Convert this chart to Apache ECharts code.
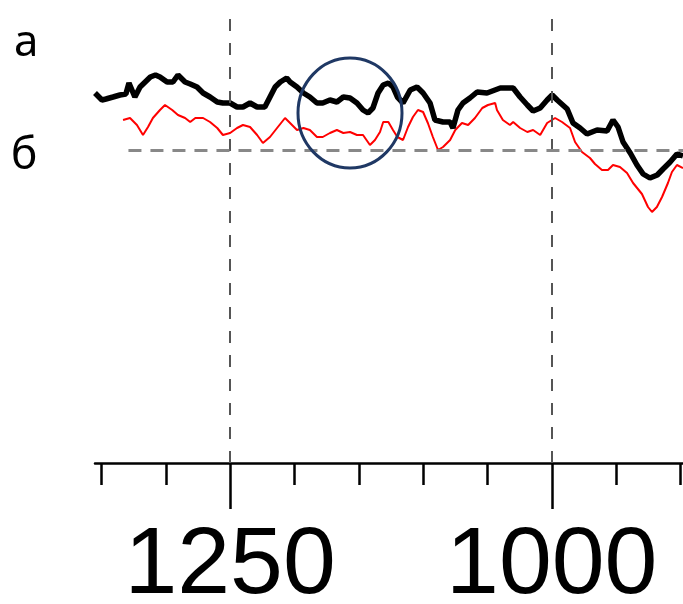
<!DOCTYPE html>
<html>
<head>
<meta charset="utf-8">
<script src="https://cdn.jsdelivr.net/npm/echarts@6/dist/echarts.min.js"></script>
<style>
  html, body { margin: 0; padding: 0; background: #fff; }
  #chart { width: 683px; height: 604px; }
</style>
</head>
<body>
<div id="chart"></div>
<script>
// spectrum a (black), wavenumber / intensity
const blackWn = [1355, 1349.6, 1346.5, 1341, 1335.6, 1331, 1328.6, 1324, 1320, 1316, 1312, 1308, 1304.5, 1299, 1294.4, 1290.5, 1285, 1281, 1275.7, 1271, 1265.6, 1260, 1255.6, 1250, 1244.6, 1240, 1234.5, 1229, 1223, 1219, 1215, 1211, 1206, 1203.4, 1198, 1193, 1188, 1182.5, 1178, 1172.4, 1167, 1162, 1156.8, 1151.4, 1146.7, 1142.8, 1139, 1135, 1131, 1127, 1123.4, 1120, 1115.6, 1110, 1104.7, 1100, 1094.6, 1090.8, 1084.5, 1079, 1076.8, 1072.9, 1069, 1063.6, 1058, 1050.3, 1040, 1030, 1024.6, 1019, 1014.5, 1009, 1003.6, 999.7, 995.8, 988, 983.5, 978, 972.6, 964.8, 957, 952.4, 948.5, 944.6, 939, 933.8, 929, 923.7, 918, 913.5, 908, 902.7, 898];
const blackVal = [370, 363, 364, 366, 368, 369, 380, 366, 376, 381, 386, 388, 386, 381, 381, 388, 381, 379, 376, 370, 366, 361, 360, 360, 356, 356, 360, 356, 356, 366, 376, 381, 385, 381, 376, 370, 366, 360, 360, 363, 361, 366, 365, 360, 353, 350, 355, 370, 378, 380, 376, 366, 360, 373, 376, 370, 360, 343, 341, 341, 335, 353, 360, 365, 371, 370, 375, 375, 366, 358, 352, 355, 363, 368, 363, 354, 340, 335, 329, 333, 332, 343, 336, 321, 310, 298, 289, 285, 288, 294, 301, 309, 307];

// spectrum б (red)
const redWn = [1333.2, 1327.8, 1322.4, 1317.7, 1313.8, 1310, 1304.5, 1300.6, 1295, 1290.5, 1285, 1281, 1277, 1271, 1265.6, 1260, 1255.6, 1250, 1244.6, 1240, 1234.5, 1229, 1224.5, 1219, 1213.5, 1207.3, 1203.4, 1198, 1193, 1188, 1182.5, 1178, 1172.4, 1167, 1162, 1156.8, 1151.4, 1146.7, 1141.3, 1137.4, 1133.5, 1131, 1127, 1123.4, 1120, 1115.6, 1111.7, 1107.9, 1104, 1100, 1096.3, 1092.4, 1088.4, 1084.5, 1079, 1075, 1069.8, 1065, 1059.7, 1054, 1049.6, 1044, 1042.6, 1038, 1032.5, 1030, 1024.6, 1019, 1014.5, 1009, 1003.6, 997.4, 992, 985.8, 981.9, 976.5, 970.3, 966.4, 961, 956.3, 952.4, 947, 941.5, 936.8, 929.9, 925.2, 922.1, 918.3, 914.3, 909.7, 906.6, 902.7, 898];
const redVal = [343, 345, 338, 328, 336, 345, 353, 358, 353, 348, 345, 341, 345, 345, 341, 335, 328, 330, 335, 338, 336, 328, 320, 326, 335, 345, 340, 333, 335, 333, 326, 326, 330, 333, 330, 331, 328, 328, 318, 323, 331, 341, 341, 333, 326, 323, 336, 346, 353, 351, 340, 326, 313, 316, 323, 333, 340, 338, 345, 355, 358, 360, 353, 343, 338, 341, 335, 331, 333, 328, 340, 345, 341, 335, 321, 311, 305, 299, 293, 293, 298, 296, 290, 280, 269, 256, 251, 256, 266, 280, 291, 298, 295];

const minorTicks = [900, 950, 1000, 1050, 1100, 1150, 1200, 1250, 1300, 1350];
const majorTicks = [1000, 1250];
const baseLevel = 313;

const zip = (xs, ys) => xs.map((x, i) => [x, ys[i]]);

const chart = echarts.init(document.getElementById('chart'));

const xRange = { type: 'value', min: 898, max: 1355, inverse: true, splitLine: { show: false } };

chart.setOption({
  animation: false,
  grid: { left: 95, right: 0, top: 12, bottom: 141, outerBoundsMode: 'none', containLabel: false },
  xAxis: [
    Object.assign({}, xRange, {
      position: 'bottom',
      axisLine: { show: true, lineStyle: { color: '#000', width: 2.5 } },
      axisTick: { show: true, customValues: minorTicks, length: 22, lineStyle: { color: '#000', width: 2.5 } },
      axisLabel: { show: false }
    }),
    Object.assign({}, xRange, {
      position: 'bottom',
      axisLine: { show: false },
      axisTick: { show: true, customValues: majorTicks, length: 46, lineStyle: { color: '#000', width: 2.5 } },
      axisLabel: {
        customValues: majorTicks, margin: 56, color: '#000',
        fontSize: 95, fontFamily: 'Liberation Sans, Arial, sans-serif',
        formatter: v => String(v)
      }
    })
  ],
  yAxis: { type: 'value', min: 0, max: 451, show: false },
  graphic: [
    { type: 'text', left: 14, top: 21, style: { text: 'а', fontSize: 44, fontFamily: 'Noto Sans', fill: '#000' } },
    { type: 'text', left: 11, top: 134, style: { text: 'б', fontSize: 44, fontFamily: 'Noto Sans', fill: '#000' } },
    {
      type: 'ellipse', z: 100,
      shape: { cx: 350, cy: 113, rx: 52, ry: 55 },
      style: { fill: 'none', stroke: '#1f3864', lineWidth: 3 }
    }
  ],
  series: [
    {
      type: 'line', data: [], silent: true,
      markLine: {
        silent: true, symbol: 'none', label: { show: false },
        data: [
          { xAxis: 1250, lineStyle: { color: '#555', width: 2, type: [12, 12] } },
          { xAxis: 1000, lineStyle: { color: '#555', width: 2, type: [12, 12] } },
          [
            { coord: [1329, baseLevel], lineStyle: { color: '#888', width: 3, type: [13, 9] } },
            { coord: [898, baseLevel] }
          ]
        ]
      }
    },
    {
      name: 'б', type: 'line', data: zip(redWn, redVal), showSymbol: false,
      lineStyle: { color: '#ff0000', width: 2 }
    },
    {
      name: 'а', type: 'line', data: zip(blackWn, blackVal), showSymbol: false,
      lineStyle: { color: '#000', width: 5.5 }
    }
  ]
});
</script>
</body>
</html>
